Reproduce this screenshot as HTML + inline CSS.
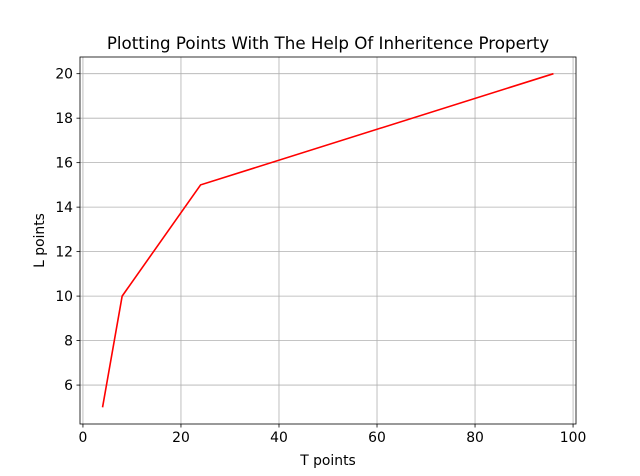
<!DOCTYPE html>
<html><head><meta charset="utf-8"><style>
body{margin:0;background:#fff;}
svg{display:block;font-family:"DejaVu Sans","Liberation Sans",sans-serif;}
</style></head><body>
<svg id="c" width="640" height="476"></svg>
<script>
const xValues=[4,8,24,96];
const yValues=[5,10,15,20];
const xTicks=[0,20,40,60,80,100];
const yTicks=[6,8,10,12,14,16,18,20];
const L=80,R=576,T=57,B=424;
const xmin=-0.6,xmax=100.6,ymin=4.25,ymax=20.75;
const sx=v=>L+(v-xmin)/(xmax-xmin)*(R-L);
const sy=v=>B-(v-ymin)/(ymax-ymin)*(B-T);
const svg=document.getElementById('c');
const NS='http://www.w3.org/2000/svg';
function mk(tag,attrs,parent){const e=document.createElementNS(NS,tag);for(const k in attrs)e.setAttribute(k,attrs[k]);(parent||svg).appendChild(e);return e;}
xTicks.forEach(t=>{const x=sx(t);
const g=mk('line',{x1:x,x2:x,y1:T,y2:B,stroke:'#b0b0b0','stroke-width':0.8});


mk('line',{x1:x,x2:x,y1:B,y2:B+3.5,stroke:'#000','stroke-width':0.8});
const tx=mk('text',{x:x,y:B+18,'text-anchor':'middle','font-size':13.9});tx.textContent=t;


});
yTicks.forEach(t=>{const y=sy(t);
const g=mk('line',{x1:L,x2:R,y1:y,y2:y,stroke:'#b0b0b0','stroke-width':0.8});


mk('line',{x1:L-3.5,x2:L,y1:y,y2:y,stroke:'#000','stroke-width':0.8});
const tx=mk('text',{x:L-7,y:y+5,'text-anchor':'end','font-size':13.9});tx.textContent=t;


});
const pts=xValues.map((v,i)=>sx(v)+','+sy(yValues[i])).join(' ');
const line=mk('polyline',{points:pts,fill:'none',stroke:'#ff0000','stroke-width':1.6});


const fr=mk('rect',{x:L,y:T,width:R-L,height:B-T,fill:'none',stroke:'#000','stroke-width':0.8});


const title=mk('text',{x:(L+R)/2,y:T-8,'text-anchor':'middle','font-size':16.7});title.textContent='Plotting Points With The Help Of Inheritence Property';


const xl=mk('text',{x:(L+R)/2,y:465,'text-anchor':'middle','font-size':13.9});xl.textContent='T points';


const yl=mk('text',{x:0,y:0,'text-anchor':'middle','font-size':13.9,transform:'translate(44,'+((T+B)/2)+') rotate(-90)'});yl.textContent='L points';


</script>
</body></html>
